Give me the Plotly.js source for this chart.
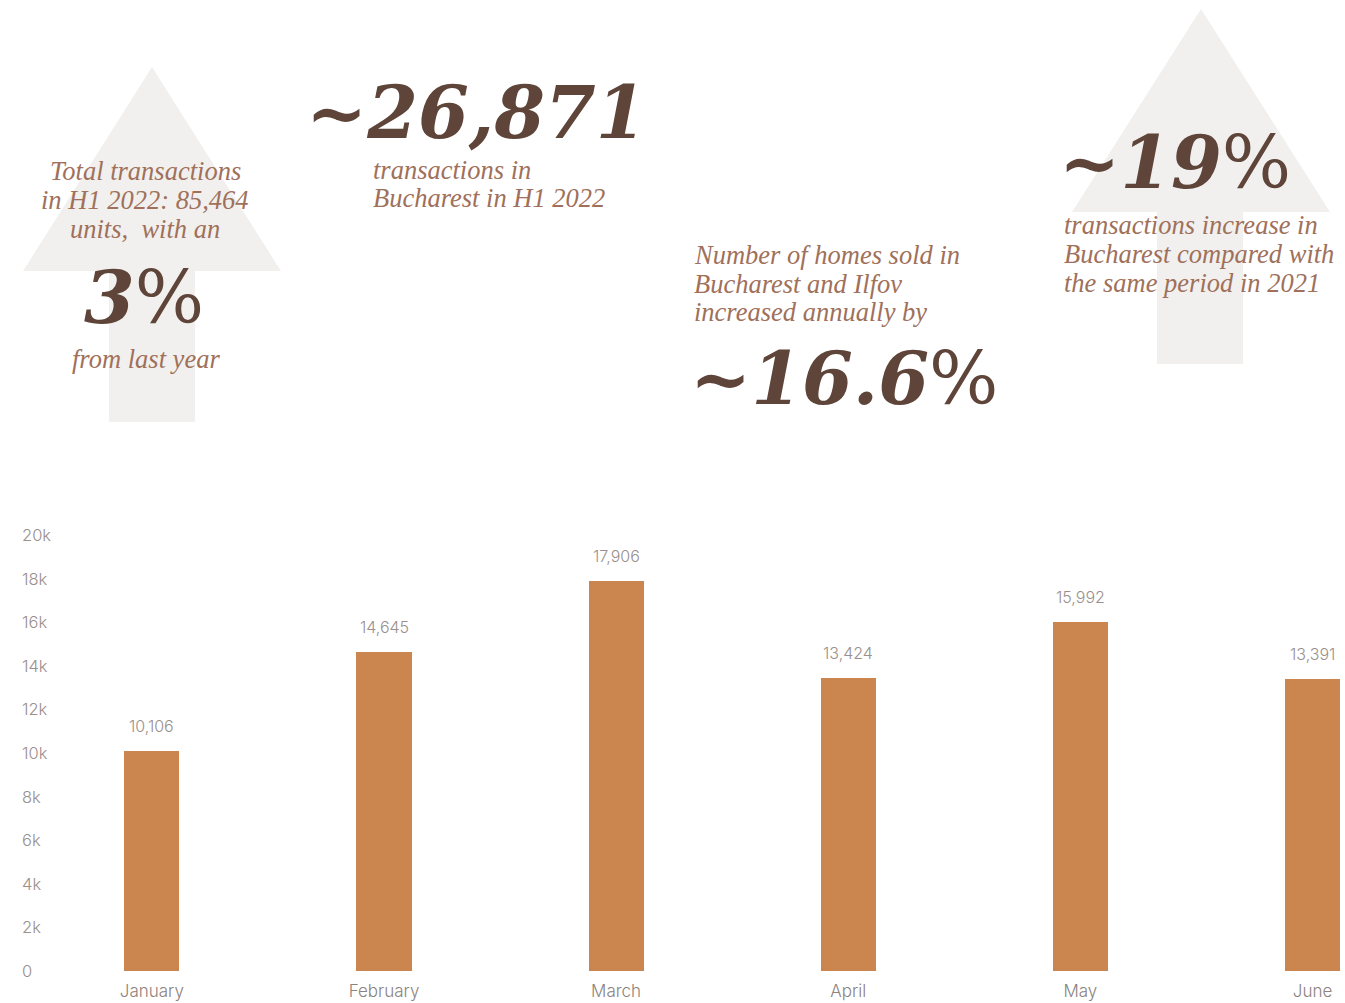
<!DOCTYPE html>
<html>
<head>
<meta charset="utf-8">
<script src="https://cdn.plot.ly/plotly-3.0.1.min.js"></script>
<style>
html,body{margin:0;padding:0;background:#fff;}
#chart{width:1345px;height:1003px;}
</style>
</head>
<body>
<div id="chart"></div>
<script>
// ---- data ----
const months = ["January", "February", "March", "April", "May", "June"];
const transactions = [10106, 14645, 17906, 13424, 15992, 13391];
const yTickVals = [0, 2000, 4000, 6000, 8000, 10000, 12000, 14000, 16000, 18000, 20000];
const yTickText = ["0", "2k", "4k", "6k", "8k", "10k", "12k", "14k", "16k", "18k", "20k"];

// ---- layout helpers (pixel -> paper) ----
const W = 1345, H = 1003;
const ML = 19, MR = 0, MT = 535, MB = 32;
const PW = W - ML - MR, PH = H - MT - MB;
const px = x => (x - ML) / PW;
const py = y => (H - MB - y) / PH;

const brownText = "#a0705a";
const darkBrown = "#5e4439";
const serif = "DejaVu Serif";
const serifSmall = "Liberation Serif";
const sans = "Inter";

function arrowPath(tipX, tipY, headL, headR, headY, shaftL, shaftR, bottom) {
  const pts = [[tipX, tipY], [headR, headY], [shaftR, headY], [shaftR, bottom], [shaftL, bottom], [shaftL, headY], [headL, headY]];
  return "M " + pts.map(p => px(p[0]).toFixed(5) + "," + py(p[1]).toFixed(5)).join(" L ") + " Z";
}

const shapes = [
  {type: "path", xref: "paper", yref: "paper", layer: "below", line: {width: 0}, fillcolor: "#f1f0ee",
   path: arrowPath(152, 67, 23, 281, 271, 109, 195, 422)},
  {type: "path", xref: "paper", yref: "paper", layer: "below", line: {width: 0}, fillcolor: "#f1f0ee",
   path: arrowPath(1201, 9, 1072, 1330, 212, 1157, 1243, 364)}
];

function txt(text, x, y, opts) {
  return Object.assign({
    text: text, xref: "paper", yref: "paper", x: px(x), y: py(y),
    xanchor: "left", yanchor: "middle", showarrow: false,
    font: {family: serifSmall, size: 26.5, color: brownText}
  }, opts || {});
}
const bigFont = {family: serif, size: 73, color: darkBrown};

const annotations = [
  txt("<i>Total transactions</i>", 145, 171, {xanchor: "center"}),
  txt("<i>in H1 2022: 85,464</i>", 145, 200, {xanchor: "center"}),
  txt("<i>units,  with an</i>", 145, 229, {xanchor: "center"}),
  txt("<b><i>3</i></b>%", 144, 297, {xanchor: "center", font: bigFont}),
  txt("<i>from last year</i>", 146, 359, {xanchor: "center"}),

  txt("<b><i>~26,871</i></b>", 304, 112, {font: bigFont}),
  txt("<i>transactions in</i>", 371, 170),
  txt("<i>Bucharest in H1 2022</i>", 371, 198),

  txt("<i>Number of homes sold in</i>", 692, 255),
  txt("<i>Bucharest and Ilfov</i>", 692, 284),
  txt("<i>increased annually by</i>", 692, 312),
  txt("<b><i>~16.6</i></b>%", 688, 378, {font: bigFont}),

  txt("<b><i>~19</i></b>%", 1057, 162, {font: bigFont}),
  txt("<i>transactions increase in</i>", 1062, 225),
  txt("<i>Bucharest compared with</i>", 1062, 254),
  txt("<i>the same period in 2021</i>", 1062, 283)
];

// y tick labels (left-aligned, as in the reference)
yTickVals.forEach((v, i) => {
  annotations.push({
    xref: "paper", yref: "y", x: px(20), y: v, text: yTickText[i],
    xanchor: "left", yanchor: "middle", showarrow: false,
    font: {family: sans, size: 16.5, weight: 300, color: "#9a8f8b"}
  });
});

// value labels above bars, from data
months.forEach((m, i) => {
  annotations.push({
    x: m, y: transactions[i], xref: "x", yref: "y",
    text: transactions[i].toLocaleString("en-US"),
    showarrow: false, yanchor: "bottom", yshift: 13,
    font: {family: sans, size: 16, weight: 300, color: "#9a8f8b"}
  });
});

const trace = {
  type: "bar",
  x: months,
  y: transactions,
  marker: {color: "#ca864e", line: {width: 0}},
  width: 0.237,
  hoverinfo: "x+y"
};

const layout = {
  width: W, height: H,
  margin: {l: ML, r: MR, t: MT, b: MB, pad: 0},
  paper_bgcolor: "#ffffff",
  plot_bgcolor: "rgba(0,0,0,0)",
  showlegend: false,
  xaxis: {
    type: "category",
    range: [-0.5724, 5.14],
    showgrid: false, zeroline: false, showline: false, ticks: "",
    tickfont: {family: sans, size: 17, weight: 300, color: "#8c827e"},
    ticklabelstandoff: 8,
    fixedrange: true
  },
  yaxis: {
    range: [0, 20000],
    showticklabels: false,
    showgrid: false, zeroline: false, showline: false, ticks: "",
    fixedrange: true
  },
  shapes: shapes,
  annotations: annotations,
  bargap: 0
};

Plotly.newPlot("chart", [trace], layout, {displayModeBar: false, staticPlot: true});
</script>
</body>
</html>
